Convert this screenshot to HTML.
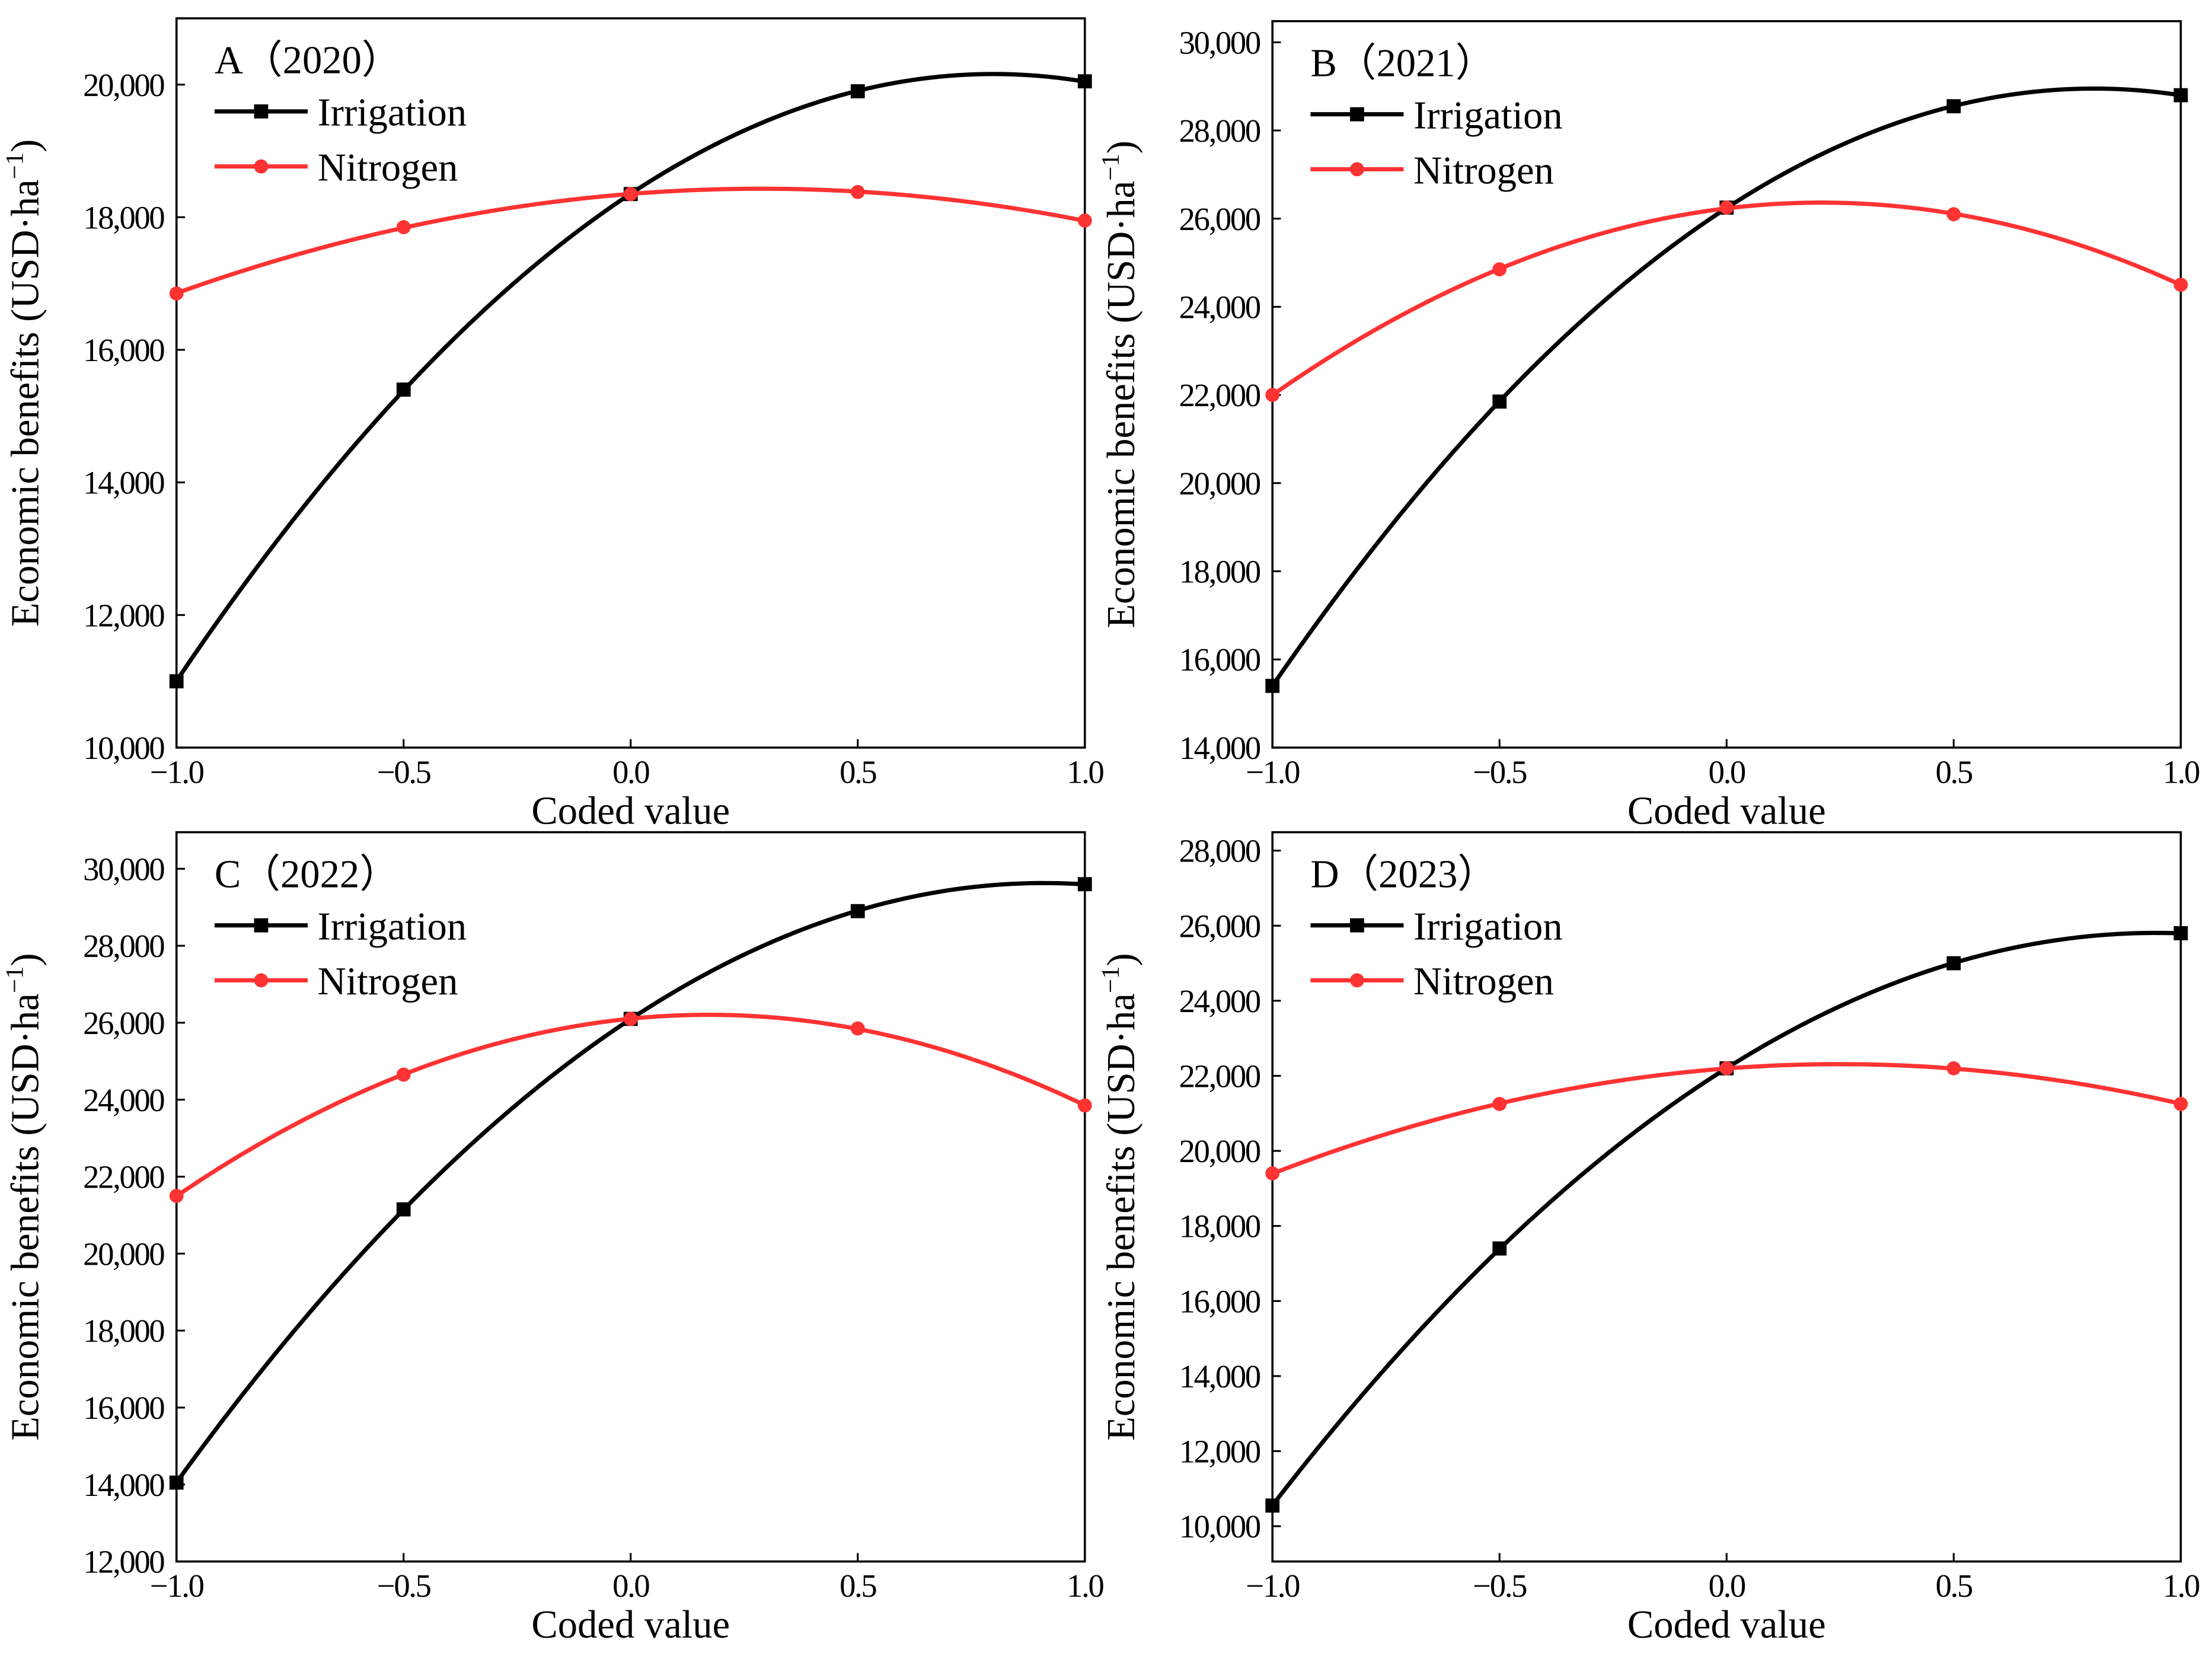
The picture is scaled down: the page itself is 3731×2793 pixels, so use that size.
<!DOCTYPE html>
<html><head><meta charset="utf-8"><style>
html,body{margin:0;padding:0;background:#fff}
svg{display:block}
svg text{font-family:"Liberation Serif","Times New Roman",serif;fill:#000}
</style></head><body>
<svg id="fig" width="3731" height="2793" viewBox="0 0 1568 1174" xmlns="http://www.w3.org/2000/svg"></svg>
<script>
const codes = [-1, -0.5, 0, 0.5, 1];
const xTicks = ["\u22121.0", "\u22120.5", "0.0", "0.5", "1.0"];
const titles = ["A\uFF082020\uFF09", "B\uFF082021\uFF09", "C\uFF082022\uFF09", "D\uFF082023\uFF09"];
const irrA = [11000, 15400, 18350, 19900, 20050];
const nitA = [16850, 17850, 18350, 18380, 17950];
const irrB = [15400, 21850, 26250, 28550, 28800];
const nitB = [22000, 24850, 26250, 26100, 24500];
const irrC = [14050, 21150, 26100, 28900, 29600];
const nitC = [21500, 24650, 26100, 25850, 23850];
const irrD = [10550, 17400, 22200, 25000, 25800];
const nitD = [19400, 21250, 22200, 22200, 21250];
const yTicksA = [10000, 12000, 14000, 16000, 18000, 20000];
const yTicksB = [14000, 16000, 18000, 20000, 22000, 24000, 26000, 28000, 30000];
const yTicksC = [12000, 14000, 16000, 18000, 20000, 22000, 24000, 26000, 28000, 30000];
const yTicksD = [10000, 12000, 14000, 16000, 18000, 20000, 22000, 24000, 26000, 28000];

const panels = [
 {x0:125,x1:769,y0:13,y1:530,ymin:10000,ymax:21000,irr:irrA,nit:nitA,ticks:yTicksA,name:"a"},
 {x0:902,x1:1546,y0:15,y1:530,ymin:14000,ymax:30480,irr:irrB,nit:nitB,ticks:yTicksB,name:"b"},
 {x0:125,x1:769,y0:590,y1:1107,ymin:12000,ymax:30950,irr:irrC,nit:nitC,ticks:yTicksC,name:"c"},
 {x0:902,x1:1546,y0:590,y1:1107,ymin:9060,ymax:28490,irr:irrD,nit:nitD,ticks:yTicksD,name:"d"}
];
const NS="http://www.w3.org/2000/svg";
const svg=document.getElementById('fig');
function mk(tag,attrs,parent,txt){const e=document.createElementNS(NS,tag);for(const k in attrs)e.setAttribute(k,attrs[k]);if(txt!==undefined)e.textContent=txt;(parent||svg).appendChild(e);return e;}
function fit(y){
 let S=[0,0,0,0,0],T=[0,0,0];
 codes.forEach((x,i)=>{for(let k=0;k<5;k++)S[k]+=Math.pow(x,k);for(let k=0;k<3;k++)T[k]+=y[i]*Math.pow(x,k);});
 const A=[[S[0],S[1],S[2],T[0]],[S[1],S[2],S[3],T[1]],[S[2],S[3],S[4],T[2]]];
 for(let i=0;i<3;i++){for(let j=i+1;j<3;j++){const f=A[j][i]/A[i][i];for(let k=i;k<4;k++)A[j][k]-=f*A[i][k];}}
 const c=[0,0,0];for(let i=2;i>=0;i--){let s=A[i][3];for(let k=i+1;k<3;k++)s-=A[i][k]*c[k];c[i]=s/A[i][i];}
 return c;
}
const FF='"Liberation Serif","Times New Roman",serif';
panels.forEach((p,pi)=>{
 const g=mk('g',{},svg);
 
 
 const X=v=>p.x0+(v+1)/2*(p.x1-p.x0);
 const Y=v=>p.y1-(v-p.ymin)/(p.ymax-p.ymin)*(p.y1-p.y0);
 const box=mk('rect',{x:p.x0,y:p.y0,width:p.x1-p.x0,height:p.y1-p.y0,fill:'none',stroke:'#000','stroke-width':1.5},g);
 
 
 codes.forEach((c,i)=>{
  mk('line',{x1:X(c),x2:X(c),y1:p.y1,y2:p.y1-6,stroke:'#000','stroke-width':1.3},g);
  const t=mk('text',{x:X(c),y:p.y1+25,'font-size':23,'letter-spacing':-1,'font-family':FF,'text-anchor':'middle'},g,xTicks[i]);
  
  
 });
 p.ticks.forEach(v=>{
  mk('line',{x1:p.x0,x2:p.x0+6,y1:Y(v),y2:Y(v),stroke:'#000','stroke-width':1.3},g);
  const t=mk('text',{x:p.x0-9,y:Y(v)+8,'font-size':23,'letter-spacing':-1,'font-family':FF,'text-anchor':'end'},g,v.toLocaleString('en-US'));
  
  
 });
 const xt=mk('text',{x:(p.x0+p.x1)/2,y:p.y1+54,'font-size':28,'font-family':FF,'text-anchor':'middle'},g,'Coded value');
 
 
 const cy=(p.y0+p.y1)/2, cx=p.x0-98;
 const yt=mk('text',{x:cx,y:cy,'font-size':28,'font-family':FF,'text-anchor':'middle',transform:`rotate(-90 ${cx} ${cy})`},g);
 
 
 mk('tspan',{},yt,'Economic benefits (USD\u00B7ha');
 mk('tspan',{dy:-11,'font-size':18},yt,'\u22121');
 mk('tspan',{dy:11},yt,')');
 const tt=mk('text',{x:p.x0+27,y:p.y0+39,'font-size':28,'font-family':FF},g,titles[pi]);
 
 
 [['irr','#000','Irrigation',66],['nit','#ff3333','Nitrogen',105]].forEach(([key,col,lab,ly])=>{
  const vals=p[key];const c=fit(vals);
  let d='';for(let k=0;k<=100;k++){const x=-1+k/50;const v=c[0]+c[1]*x+c[2]*x*x;d+=(k?'L':'M')+X(x).toFixed(2)+','+Y(v).toFixed(2);}
  const path=mk('path',{d:d,fill:'none',stroke:col,'stroke-width':3},g);
  
  
  vals.forEach((v,i)=>{
   let m;
   if(key==='irr')m=mk('rect',{x:X(codes[i])-5,y:Y(v)-5,width:10,height:10,fill:col},g);
   else m=mk('circle',{cx:X(codes[i]),cy:Y(v),r:5,fill:col},g);
   
   
  });
  const ly2=p.y0+ly;
  const lg=mk('g',{},g);
  
  
  mk('line',{x1:p.x0+27,x2:p.x0+93,y1:ly2,y2:ly2,stroke:col,'stroke-width':3},lg);
  if(key==='irr')mk('rect',{x:p.x0+55,y:ly2-5,width:10,height:10,fill:col},lg);
  else mk('circle',{cx:p.x0+60,cy:ly2,r:5,fill:col},lg);
  mk('text',{x:p.x0+100,y:ly2+10,'font-size':28,'font-family':FF},lg,lab);
 });
});
</script>
</body></html>
